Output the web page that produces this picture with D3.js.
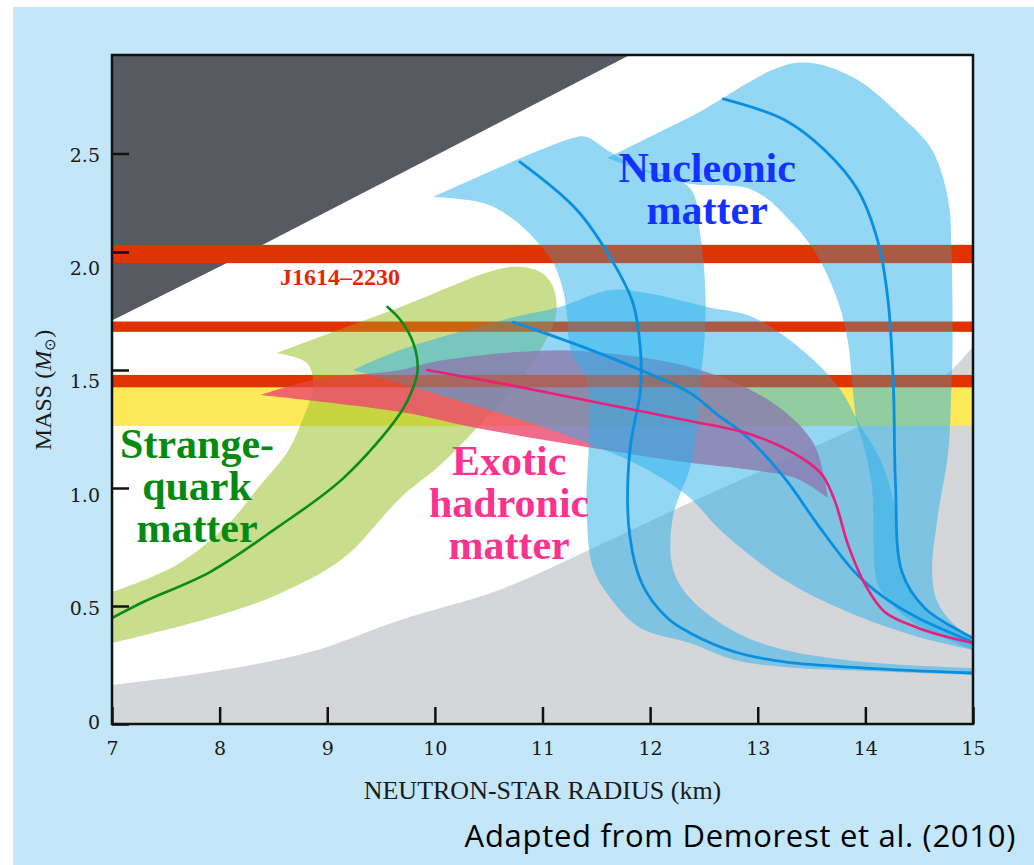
<!DOCTYPE html>
<html>
<head>
<meta charset="utf-8">
<script src="https://cdn.jsdelivr.net/npm/d3@7"></script>
<style>
  html, body { margin: 0; padding: 0; background: #ffffff; }
  svg { display: block; }
</style>
</head>
<body>
<svg id="chart" width="1034" height="865"></svg>
<script>
// ---- axes ----
const radiusTicks = [7, 8, 9, 10, 11, 12, 13, 14, 15];
const massTicks = [0, 0.5, 1.0, 1.5, 2.0, 2.5];

// ---- measured masses (solar masses): [low, high] ----
const pulsarNames = ["J1614-2230", "J1903+0327", "B1913+16"];
const pulsarLow = [1.953, 1.662, 1.427];
const pulsarHigh = [2.036, 1.705, 1.479];
const doubleNsRange = [1.263, 1.428];

// ---- excluded regions: [radius km, mass] ----
const causalityEdge = [[7, 1.71], [8.27, 2.0], [11.81, 3.0], [7, 3.0]];
const rotationEdge = [[7, 0.165], [7.91, 0.22], [8.84, 0.305], [9.68, 0.441], [10.61, 0.57],
  [11.53, 0.758], [12.32, 0.928], [13.21, 1.11], [13.93, 1.26], [14.4, 1.37], [14.8, 1.5], [15, 1.6]];

// ---- strange-quark matter band and curve ----
const strangeOuter = [[8.53, 1.572], [9.68, 1.767], [10.70, 1.936], [10.98, 1.915], [11.09, 1.86],
  [11.13, 1.784], [11.10, 1.691], [10.79, 1.458], [10.39, 1.254], [10.05, 1.097], [9.68, 0.958],
  [9.15, 0.703], [8.53, 0.547], [7.91, 0.449], [7.0, 0.343]];
const strangeInner = [[7.0, 0.559], [7.60, 0.674], [8.07, 0.843], [8.38, 1.013], [8.63, 1.153],
  [8.75, 1.267], [8.87, 1.436], [8.81, 1.530], [8.53, 1.572]];
const strangeCurve = [[9.56, 1.767], [9.68, 1.712], [9.80, 1.614], [9.84, 1.500], [9.80, 1.428],
  [9.68, 1.318], [9.15, 1.042], [8.53, 0.831], [7.91, 0.644], [7.29, 0.517], [7.0, 0.449]];

// ---- exotic hadronic matter band and curve ----
const exoticUpper = [[8.38, 1.394], [8.87, 1.458], [9.68, 1.500], [9.98, 1.534], [10.76, 1.576],
  [11.35, 1.581], [12.37, 1.513], [13.10, 1.373], [13.50, 1.203], [13.62, 1.042], [13.65, 0.958]];
const exoticLower = [[13.65, 0.958], [13.35, 1.042], [12.95, 1.076], [12.32, 1.110], [11.41, 1.174],
  [10.39, 1.254], [9.68, 1.322], [8.38, 1.394]];
const exoticCurve = [[9.93, 1.500], [10.70, 1.436], [11.53, 1.360], [12.37, 1.284], [12.95, 1.225],
  [13.41, 1.127], [13.60, 1.055], [13.72, 0.941], [13.84, 0.758], [14.00, 0.589], [14.18, 0.475],
  [14.49, 0.407], [14.80, 0.364], [15.00, 0.343]];

// ---- nucleonic matter bands and curves ----
const nucleonA1 = [[9.98, 2.279], [11.28, 2.579], [11.41, 2.584], [11.60, 2.518], [11.84, 2.442],
  [12.37, 2.325], [12.46, 2.112], [12.51, 1.869], [12.51, 1.669], [12.46, 1.415], [12.42, 1.203],
  [12.37, 1.085], [12.21, 0.873], [12.21, 0.661], [12.37, 0.534], [12.79, 0.390], [13.25, 0.314],
  [14.00, 0.263], [15, 0.237]];
const nucleonA2 = [[15, 0.208], [14.0, 0.225], [13.25, 0.242], [12.79, 0.271], [12.37, 0.343],
  [11.91, 0.407], [11.66, 0.517], [11.47, 0.661], [11.41, 0.898], [11.42, 1.436], [11.26, 1.585],
  [11.23, 1.725], [11.19, 1.839], [11.10, 1.953], [10.91, 2.076], [10.70, 2.178], [10.45, 2.249],
  [9.98, 2.279]];
const nucleonB1 = [[11.60, 2.477], [12.37, 2.685], [13.35, 2.959], [13.88, 2.888], [14.34, 2.685],
  [14.62, 2.518], [14.77, 2.264], [14.80, 2.010], [14.81, 1.585], [14.80, 1.436], [14.77, 1.153],
  [14.67, 0.873], [14.62, 0.644], [14.67, 0.517], [14.83, 0.419], [15, 0.364]];
const nucleonB2 = [[15, 0.314], [14.41, 0.441], [14.14, 0.568], [14.09, 0.644], [14.06, 1.013],
  [13.97, 1.203], [13.92, 1.280], [13.88, 1.428], [13.84, 1.614], [13.75, 1.784], [13.56, 1.979],
  [13.32, 2.147], [12.95, 2.315], [12.32, 2.350], [11.60, 2.477]];
const nucleonC1 = [[9.24, 1.500], [9.68, 1.585], [10.70, 1.720], [11.16, 1.767], [11.63, 1.839],
  [11.97, 1.826], [12.53, 1.767], [12.95, 1.725], [13.41, 1.585], [13.75, 1.428], [13.95, 1.267],
  [14.14, 1.119], [14.28, 0.907], [14.32, 0.695], [14.46, 0.525], [14.74, 0.419], [15, 0.369]];
const nucleonC2 = [[15, 0.314], [14.49, 0.369], [13.88, 0.466], [13.25, 0.610], [12.65, 0.822],
  [12.37, 0.958], [11.91, 1.093], [11.16, 1.233], [10.14, 1.381], [9.24, 1.500]];
const nucleonCurveA = [[10.79, 2.457], [11.32, 2.213], [11.66, 1.953], [11.84, 1.784], [11.91, 1.585],
  [11.91, 1.415], [11.81, 1.153], [11.81, 0.801], [11.93, 0.589], [12.16, 0.449], [12.37, 0.386],
  [12.79, 0.305], [13.25, 0.263], [14.00, 0.237], [15, 0.216]];
const nucleonCurveB = [[12.68, 2.777], [13.25, 2.670], [13.62, 2.518], [13.93, 2.315], [14.12, 2.046],
  [14.21, 1.797], [14.26, 1.436], [14.28, 1.013], [14.34, 0.644], [14.55, 0.492], [15, 0.364]];
const nucleonCurveC = [[10.73, 1.703], [11.38, 1.597], [11.91, 1.500], [12.37, 1.403], [12.63, 1.309],
  [12.88, 1.225], [13.25, 1.042], [13.56, 0.843], [13.90, 0.644], [14.18, 0.534], [14.49, 0.449],
  [15, 0.347]];

// ---- layout ----
const W = 1034, H = 865;
const plotLeft = 112, plotRight = 973, plotTop = 55, plotBottom = 724;

const x = d3.scaleLinear().domain([7, 15]).range([plotLeft, plotRight]);
// the mass axis of this figure is stretched below 2.0 and compressed above it
const y = d3.scaleLinear().domain([0, 2, 3]).range([plotBottom, 252, plotTop]);
// printed tick numbers sit on an even spacing of their own
const labelY = d3.scaleLinear().domain([0, 2.5]).range([722, 155]);

const svg = d3.select("#chart");

svg.append("rect").attr("x", 13).attr("y", 7).attr("width", W - 13).attr("height", H - 7)
  .attr("fill", "#c3e7f9");

svg.append("defs").append("clipPath").attr("id", "plotClip")
  .append("rect").attr("x", plotLeft).attr("y", plotTop)
  .attr("width", plotRight - plotLeft).attr("height", plotBottom - plotTop);

const plot = svg.append("g").attr("clip-path", "url(#plotClip)");
plot.append("rect").attr("x", plotLeft).attr("y", plotTop)
  .attr("width", plotRight - plotLeft).attr("height", plotBottom - plotTop)
  .attr("fill", "#ffffff");

const smooth = d3.line().x(d => x(d[0])).y(d => y(d[1])).curve(d3.curveCatmullRom.alpha(0.5));
const straight = d3.line().x(d => x(d[0])).y(d => y(d[1]));

function outline(...edges) {
  return edges.map((e, i) => {
    const s = smooth(e);
    return i ? s.replace(/^M/, "L") : s;
  }).join("") + "Z";
}

// rotation-excluded region (light grey)
plot.append("path")
  .attr("d", outline(rotationEdge, [[15, 0], [7, 0]]))
  .attr("fill", "#d5d6d9");

// causality-excluded region (dark grey)
plot.append("path")
  .attr("d", straight(causalityEdge) + "Z")
  .attr("fill", "#575b61");

// double neutron star mass range
plot.append("rect")
  .attr("x", x(7)).attr("width", x(15) - x(7))
  .attr("y", y(doubleNsRange[1])).attr("height", y(doubleNsRange[0]) - y(doubleNsRange[1]))
  .attr("fill", "#fcea58");

// pulsar mass bands
function drawPulsars(g, color, opacity) {
  g.selectAll(null).data(pulsarNames).join("rect")
    .attr("x", x(7)).attr("width", x(15) - x(7))
    .attr("y", (d, i) => y(pulsarHigh[i]))
    .attr("height", (d, i) => y(pulsarLow[i]) - y(pulsarHigh[i]))
    .attr("fill", color)
    .attr("fill-opacity", opacity);
}
drawPulsars(plot.append("g"), "#e62600", 1);

// strange-quark matter band
plot.append("path").attr("d", outline(strangeOuter, strangeInner))
  .attr("fill", "rgb(155,195,45)").attr("fill-opacity", 0.55);

// exotic hadronic matter band
plot.append("path").attr("d", outline(exoticUpper, exoticLower))
  .attr("fill", "rgb(238,70,110)").attr("fill-opacity", 0.8);

// nucleonic matter bands
[[nucleonA1, nucleonA2], [nucleonB1, nucleonB2], [nucleonC1, nucleonC2]].forEach(([a, b]) => {
  plot.append("path").attr("d", outline(a, b))
    .attr("fill", "rgb(40,175,235)").attr("fill-opacity", 0.5);
});

// pulsar bands show through the translucent bands
drawPulsars(plot.append("g"), "#dc4600", 0.42);

// mass-radius curves
function curve(points, color, width) {
  plot.append("path").attr("d", smooth(points))
    .attr("fill", "none").attr("stroke", color).attr("stroke-width", width)
    .attr("stroke-linecap", "round");
}
curve(strangeCurve, "#0b8a1e", 2.6);
curve(nucleonCurveA, "#0a8fe0", 2.8);
curve(nucleonCurveB, "#0a8fe0", 2.8);
curve(nucleonCurveC, "#0a8fe0", 2.8);
curve(exoticCurve, "#e8207a", 2.6);

// region labels
const serif = "'Liberation Serif', 'Times New Roman', serif";
const tickFont = "'DejaVu Serif', serif";
function label(lines, r, m, color, size) {
  const t = svg.append("text")
    .attr("x", x(r)).attr("y", y(m))
    .attr("text-anchor", "middle")
    .attr("font-family", serif).attr("font-weight", "bold")
    .attr("font-size", size).attr("fill", color);
  lines.forEach((s, i) => {
    t.append("tspan").attr("x", x(r)).attr("dy", i ? "1em" : 0).text(s);
  });
}
label(["Nucleonic", "matter"], 12.53, 2.355, "#1432ff", 42);
label(["Exotic", "hadronic", "matter"], 10.69, 1.055, "#f8348f", 42);
label(["Strange-", "quark", "matter"], 7.79, 1.127, "#078a12", 42);

svg.append("text")
  .attr("x", x(8.56)).attr("y", y(1.86))
  .attr("font-family", serif).attr("font-weight", "bold")
  .attr("font-size", 24).attr("fill", "#e62600")
  .text("J1614\u20132230");

// axes
const yAxis = d3.axisLeft(y).tickValues(massTicks)
  .tickFormat(d => d === 0 ? "0" : d3.format(".1f")(d))
  .tickSizeInner(-17).tickSizeOuter(0).tickPadding(12);
const gy = svg.append("g").attr("transform", `translate(${plotLeft},0)`).call(yAxis)
  .attr("font-family", tickFont).attr("font-size", 19);
gy.select(".domain").remove();
gy.selectAll(".tick line").attr("stroke", "#111").attr("stroke-width", 2.5);
gy.selectAll(".tick text").attr("fill", "#1a1a1a").attr("y", d => labelY(d) - y(d));

const xAxis = d3.axisBottom(x).tickValues(radiusTicks).tickFormat(d3.format("d"))
  .tickSizeInner(-17).tickSizeOuter(0).tickPadding(18);
const gx = svg.append("g").attr("transform", `translate(0,${plotBottom})`).call(xAxis)
  .attr("font-family", tickFont).attr("font-size", 19);
gx.select(".domain").remove();
gx.selectAll(".tick line").attr("stroke", "#111").attr("stroke-width", 2.5);
gx.selectAll(".tick text").attr("fill", "#1a1a1a");

// frame
svg.append("rect").attr("x", plotLeft).attr("y", plotTop)
  .attr("width", plotRight - plotLeft).attr("height", plotBottom - plotTop)
  .attr("fill", "none").attr("stroke", "#111").attr("stroke-width", 2.5);

// axis titles
svg.append("text")
  .attr("x", (plotLeft + plotRight) / 2).attr("y", 799)
  .attr("text-anchor", "middle")
  .attr("font-family", serif).attr("font-size", 26).attr("fill", "#1a1a1a")
  .text("NEUTRON-STAR RADIUS (km)");

const yt = svg.append("text")
  .attr("transform", "translate(51,390) rotate(-90)")
  .attr("text-anchor", "middle")
  .attr("font-family", serif).attr("font-size", 24).attr("fill", "#1a1a1a");
yt.append("tspan").text("MASS (");
yt.append("tspan").attr("font-style", "italic").text("M");
yt.append("tspan").attr("font-size", 15).attr("dy", 4).text("\u2299");
yt.append("tspan").attr("dy", -4).text(")");

// source note
svg.append("text")
  .attr("x", 1016).attr("y", 847)
  .attr("text-anchor", "end")
  .attr("font-family", "'Open Sans', sans-serif").attr("font-size", 31)
  .attr("letter-spacing", 0.7)
  .attr("fill", "#000")
  .text("Adapted from Demorest et al. (2010)");
</script>
</body>
</html>
